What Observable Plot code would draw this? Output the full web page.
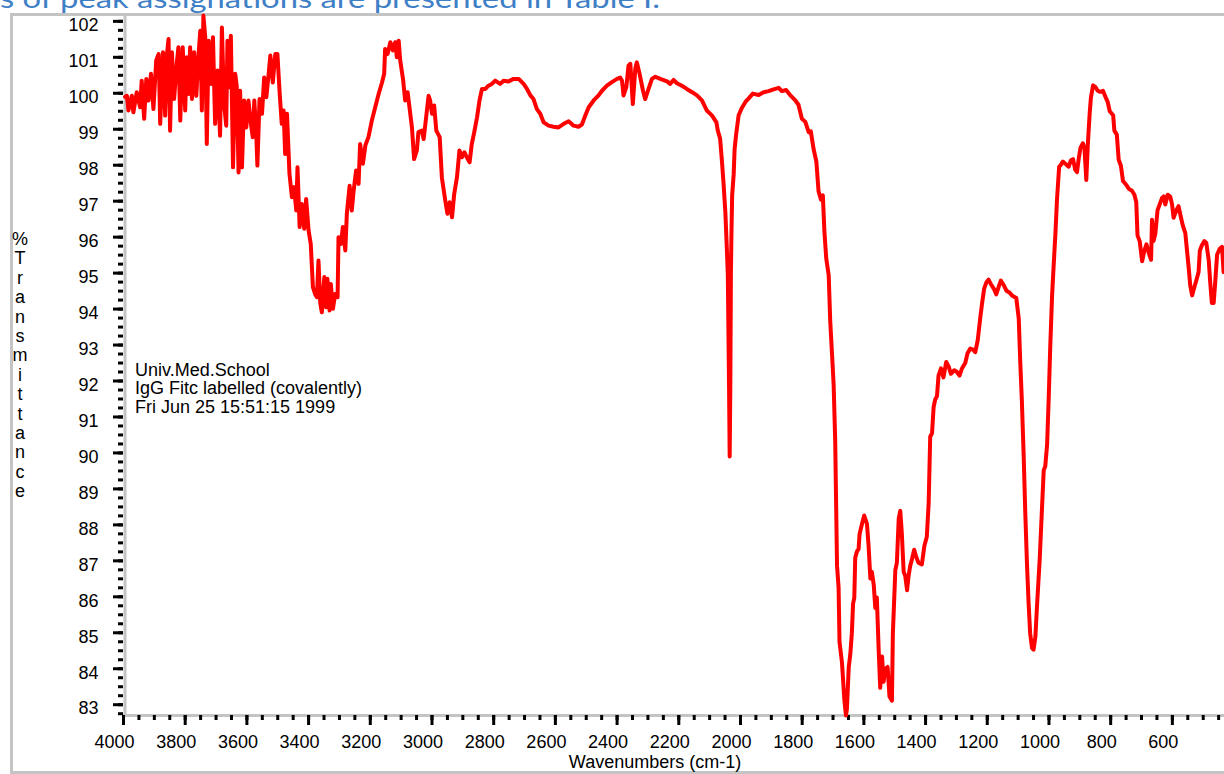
<!DOCTYPE html>
<html>
<head>
<meta charset="utf-8">
<script src="https://cdn.jsdelivr.net/npm/d3@7"></script>
<script src="https://cdn.jsdelivr.net/npm/@observablehq/plot@0.6"></script>
<style>
  html, body { margin: 0; padding: 0; background: #fff; }
  body { width: 1224px; height: 774px; overflow: hidden; position: relative; font-family: "Liberation Sans", Arial, sans-serif; }
  #topline { position: absolute; left: 0; top: 0; }
  #frame { position: absolute; left: 10px; top: 13px; width: 1400px; height: 761px; border: 3px solid #c4c4c4; box-sizing: border-box; }
  #chart { position: absolute; left: 0; top: 0; }
  #ylabel { position: absolute; left: 10px; top: 230px; width: 20px; text-align: center; font-size: 18px; line-height: 19.4px; color: #000; }
  #note { position: absolute; left: 135px; top: 361px; font-size: 18px; line-height: 18.3px; color: #000; white-space: pre; }
  #xlabel { position: absolute; left: 455px; width: 400px; top: 752px; text-align: center; font-size: 18px; line-height: 20px; color: #000; }
</style>
</head>
<body>
<svg id="topline" width="1224" height="16"><text x="0" y="8" fill="#3f7fc6" font-family="Lato, 'Open Sans', sans-serif" font-size="26" textLength="660" lengthAdjust="spacingAndGlyphs">s of peak assignations are presented in Table I.</text></svg>
<div id="frame"></div>
<div id="chart"></div>
<div id="ylabel"></div>
<div id="note"></div>
<div id="xlabel"></div>
<script>
// ---- data: [wavenumber (cm-1), %Transmittance] ----
const bandOH = [
  [3995,99.90],[3989,99.93],[3984,99.52],[3973,99.93],[3968,99.47],[3957,100.03],[3946,99.61],[3941,100.35],[3933,99.29],[3926,100.40],
  [3919,99.80],[3911,100.54],[3903,99.56],[3894,100.91],[3886,101.09],[3881,99.15],[3872,101.14],[3865,99.38],[3859,101.09],[3854,101.51],
  [3849,98.96],[3843,101.14],[3836,99.84],[3827,100.86],[3822,101.28],[3816,99.24],[3808,101.28],[3800,99.52],[3795,101.00],[3789,99.98],
  [3784,101.28],[3778,99.84],[3771,101.14],[3764,99.93],[3757,101.05],[3751,101.74],[3746,99.52],[3741,102.16],[3735,101.56],[3730,98.59],
  [3724,101.46],[3717,100.26],[3710,101.56],[3703,99.15],[3695,100.63],[3687,98.82],[3681,101.83],[3674,99.70],[3667,99.10],[3663,101.46],
  [3656,100.17],[3652,101.60],[3645,97.94],[3638,100.54],[3633,100.21],[3627,97.80],[3622,100.07],[3616,97.94],[3609,99.80],[3602,99.05],
  [3595,99.80],[3587,99.15],[3581,98.78],[3576,99.80],[3570,98.96],[3566,97.99],[3559,99.84],[3551,99.43],[3544,100.44],[3537,99.89],
  [3530,100.49],[3524,101.05],[3516,100.30],[3508,101.09],[3501,101.09],[3494,100.03],[3487,99.15],[3481,99.52],[3476,98.31],[3470,99.43],
  [3462,97.76],[3454,97.11],[3447,97.39],[3440,96.74],[3436,97.94],[3429,96.28],[3422,96.92],[3414,96.23],[3408,97.06],[3400,96.18],
  [3393,95.81],[3386,94.61],[3379,94.42],[3373,94.33],[3368,95.35],[3362,94.15],[3357,93.91],[3349,94.89],[3343,94.05],[3339,94.84],
  [3332,93.96],[3328,94.70],[3321,94.01],[3314,94.42],[3306,94.33],[3303,96.00],[3295,95.81],[3289,96.28],[3281,95.63],[3276,96.65],
  [3267,97.43],[3260,96.74],[3254,97.29],[3246,97.85],[3238,97.48],[3233,98.59],[3224,98.04],[3216,98.55],[3206,98.78],[3195,99.24],
  [3184,99.61],[3173,99.98],[3162,100.30],[3155,100.54],[3152,101.23],[3144,101.09],[3135,101.42],[3127,101.19],[3119,101.42],[3114,101.00],
  [3108,101.46],[3103,100.91],[3094,100.40],[3087,99.80],[3079,100.03],[3073,99.61],[3065,99.05],[3058,98.17],[3049,98.41],[3044,98.92],
  [3033,98.96],[3027,98.73],[3019,99.33],[3011,99.93],[3006,99.80],[3000,99.43],[2993,99.66],[2986,98.96],[2975,98.78],[2968,97.66],
  [2957,97.02],[2950,96.65],[2943,96.97]
];
const bandCH = [
  [2935,96.55],[2928,97.20],[2919,97.67],[2911,98.41],[2903,98.22],[2895,98.36],[2887,98.22],[2878,98.08],[2871,98.59],[2863,98.92],
  [2854,99.33],[2846,99.80],[2838,100.12],[2827,100.12],[2817,100.21],[2806,100.26],[2795,100.35],[2779,100.26],[2768,100.35],[2752,100.33],
  [2736,100.40],[2719,100.40],[2703,100.26],[2692,100.12],[2681,99.94],[2671,99.84],[2660,99.56],[2649,99.43],[2638,99.19],[2622,99.10],
  [2606,99.07],[2590,99.05],[2573,99.15],[2557,99.22],[2541,99.10],[2525,99.07],[2514,99.13],[2503,99.38],[2492,99.61],[2476,99.80],
  [2460,99.94],[2449,100.07],[2433,100.21],[2417,100.31],[2400,100.40],[2390,100.44],[2384,100.35],[2379,99.94],[2370,100.17],[2363,100.77],
  [2357,100.82],[2349,99.70],[2341,100.68],[2336,100.86],[2327,100.54],[2316,100.07],[2309,99.84],[2298,100.12],[2287,100.40],[2276,100.46],
  [2260,100.40],[2238,100.33],[2228,100.26],[2217,100.37],[2206,100.28],[2190,100.21],[2174,100.12],[2157,100.03],[2141,99.94],[2125,99.80],
  [2109,99.52],[2092,99.38],[2078,99.19]
];
const bandAmide = [
  [2074,98.98],[2066,98.74],[2060,98.10],[2055,97.51],[2049,96.69],[2044,95.64],[2041,94.94],[2037,91.78],[2035,89.90],[2033,91.78],
  [2031,95.05],[2029,96.23],[2027,97.16],[2022,97.75],[2019,98.45],[2014,98.86],[2006,99.39],[1995,99.60],[1984,99.76],[1974,99.85],
  [1960,99.99],[1941,99.95],[1925,100.03],[1909,100.06],[1893,100.11],[1876,100.15],[1866,100.06],[1852,100.09],[1839,99.95],[1822,99.80],
  [1812,99.68],[1801,99.29],[1790,99.21],[1779,98.92],[1772,98.94],[1763,98.45],[1754,98.10],[1747,97.28],[1739,97.04],[1733,97.16],
  [1728,96.17],[1722,95.41],[1714,94.94],[1709,93.65],[1703,92.71],[1698,91.89],[1693,90.37],[1687,86.86],[1682,86.27],[1679,84.75],
  [1671,84.17],[1663,83.11],[1658,82.70],[1655,82.88],[1649,84.05],[1644,84.40],[1639,84.99],[1635,85.81],[1631,85.98],[1628,87.09],
  [1622,87.27],[1617,87.33],[1614,87.74],[1606,88.03],[1599,88.26],[1590,88.03],[1585,87.45],[1579,86.51],[1574,86.69],[1568,86.33],
  [1563,85.69],[1558,85.98],[1552,84.52],[1547,83.47],[1541,84.34],[1536,83.64],[1531,83.99],[1523,84.05],[1517,83.23],[1509,83.11]
];
const bandFingerprint = [
  [1506,84.99],[1498,86.74],[1493,86.95],[1487,88.18],[1482,88.39],[1477,87.77],[1471,86.69],[1466,86.59],[1460,86.18],[1455,86.59],
  [1450,86.85],[1444,87.05],[1437,87.31],[1430,87.10],[1423,86.95],[1412,86.90],[1404,87.41],[1396,87.67],[1390,88.60],[1385,90.45],
  [1379,90.55],[1374,91.27],[1369,91.48],[1363,91.58],[1358,92.15],[1350,92.35],[1342,92.10],[1333,92.53],[1325,92.40],[1318,92.20],
  [1307,92.30],[1298,92.25],[1290,92.15],[1282,92.35],[1271,92.51],[1264,92.77],[1255,92.90],[1246,92.87],[1239,92.80],[1231,93.13],
  [1223,93.74],[1217,94.15],[1210,94.57],[1203,94.74],[1196,94.82],[1188,94.69],[1179,94.57],[1171,94.41],[1163,94.62],[1156,94.79],
  [1147,94.67],[1138,94.51],[1128,94.46],[1120,94.38],[1106,94.31],[1098,93.74],[1093,92.51],[1088,91.48],[1082,89.93],[1077,88.39],
  [1071,86.85],[1066,85.82],[1061,84.99],[1055,84.58],[1050,84.53],[1044,84.89],[1039,85.71],[1030,87.05],[1023,88.39],[1017,89.52],
  [1012,89.63],[1006,90.24],[1001,91.48],[996,92.92],[990,94.36],[985,95.18],[979,96.11],[974,97.04],[967,97.96]
];
const bandLow = [
  [963,97.99],[955,98.10],[947,98.04],[936,97.96],[929,98.13],[922,98.17],[915,97.88],[909,97.81],[904,98.15],[898,98.48],
  [890,98.61],[885,98.48],[879,97.59],[874,98.58],[868,99.45],[864,99.88],[857,100.22],[850,100.18],[842,100.07],[834,100.04],
  [825,100.07],[817,99.90],[810,99.77],[803,99.50],[792,99.39],[788,98.96],[780,98.85],[774,98.15],[767,97.99],[760,97.56],
  [749,97.45],[742,97.35],[731,97.29],[723,97.18],[717,96.97],[713,96.05],[706,95.89],[698,95.33],[691,95.62],[684,95.80],
  [677,95.57],[669,95.37],[666,96.48],[661,95.89],[655,96.11],[648,96.75],[641,96.91],[634,97.08],[628,97.13],[623,96.91],
  [615,97.18],[607,97.13],[601,96.91],[596,96.54],[587,96.75],[580,96.86],[572,96.54],[566,96.32],[558,96.11],[553,95.67],
  [547,95.14],[542,94.65],[536,94.38],[529,94.60],[522,94.81],[515,95.03],[511,95.62],[504,95.78],[496,95.89],[490,95.84],
  [482,95.35],[477,94.71],[472,94.17],[466,94.17],[461,94.76],[455,95.51],[447,95.67],[439,95.73],[434,95.03]
];

// ---- axes ----
const xDomain = [4000, 431];
const yDomain = [82.70, 102.19];
const xTickLabels = [4000, 3800, 3600, 3400, 3200, 3000, 2800, 2600, 2400, 2200, 2000, 1800, 1600, 1400, 1200, 1000, 800, 600];
const yTickLabels = [83, 84, 85, 86, 87, 88, 89, 90, 91, 92, 93, 94, 95, 96, 97, 98, 99, 100, 101, 102];
const xMinorTicks = d3.range(4000, 440, -50);
const yMinorTicks = d3.range(82.75, 102.2, 0.25);

// ---- texts ----
const yTitle = "%Transmittance";
const xTitle = "Wavenumbers (cm-1)";
const noteLines = ["Univ.Med.School", "IgG Fitc labelled (covalently)", "Fri Jun 25 15:51:15 1999"];

const spectrum = [...bandOH, ...bandCH, ...bandAmide, ...bandFingerprint, ...bandLow]
  .map(([wn, t]) => ({wn, t}));

const chart = Plot.plot({
  width: 1224,
  height: 774,
  marginLeft: 123,
  marginRight: 0,
  marginTop: 14,
  marginBottom: 59,
  x: {domain: xDomain},
  y: {domain: yDomain},
  style: {background: "transparent", fontFamily: "'Liberation Sans', Arial, sans-serif", fontSize: "18px", color: "#000", overflow: "visible"},
  marks: [
    Plot.ruleX([xDomain[0]], {stroke: "#c4c4c4", strokeWidth: 3, dx: 1.5}),
    Plot.ruleY([yDomain[0]], {stroke: "#c4c4c4", strokeWidth: 3}),
    Plot.axisX(xMinorTicks, {anchor: "bottom", tickSize: 5, tickFormat: () => "", strokeWidth: 3, stroke: "#000", label: null}),
    Plot.axisX(xTickLabels, {anchor: "bottom", tickSize: 10, tickFormat: () => "", strokeWidth: 3, stroke: "#000", label: null}),
    Plot.axisX(xTickLabels, {anchor: "bottom", tickSize: 0, tickPadding: 20, dx: -9, fontSize: 18, tickFormat: d => String(d), label: null}),
    Plot.axisY(yMinorTicks, {anchor: "left", tickSize: 5, tickFormat: () => "", strokeWidth: 3, stroke: "#000", label: null}),
    Plot.axisY(yTickLabels, {anchor: "left", tickSize: 10, tickFormat: () => "", strokeWidth: 3, stroke: "#000", label: null}),
    Plot.axisY(yTickLabels, {anchor: "left", tickSize: 0, tickPadding: 25, dy: 4, fontSize: 18, tickFormat: d => String(d), label: null}),
    Plot.line(spectrum, {x: "wn", y: "t", stroke: "#ff0000", strokeWidth: 4, strokeLinejoin: "round", strokeLinecap: "round"})
  ]
});
document.getElementById("chart").appendChild(chart);

document.getElementById("ylabel").innerHTML = Array.from(yTitle).map(c => `<div>${c}</div>`).join("");
document.getElementById("note").textContent = noteLines.join("\n");
document.getElementById("xlabel").textContent = xTitle;
</script>
</body>
</html>
